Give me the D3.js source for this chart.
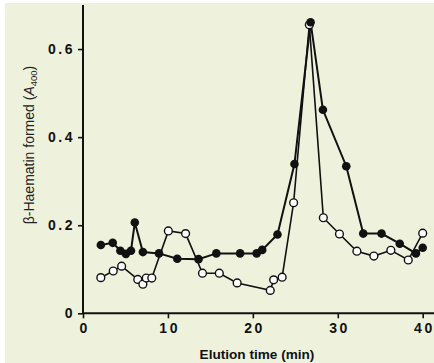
<!DOCTYPE html>
<html>
<head>
<meta charset="utf-8">
<script src="https://cdn.jsdelivr.net/npm/d3@7"></script>
<style>
  body { margin: 0; background: #ffffff; }
  svg { display: block; }
  .tick-label { font-family: "Liberation Sans", Arial, sans-serif; font-weight: bold; font-size: 14px; letter-spacing: 2.5px; fill: #111; }
</style>
</head>
<body>
<div id="chart"></div>
<script>
// elution times (min) and A400 values
var filledTime = [2.1, 3.5, 4.4, 5.05, 5.65, 6.1, 7.05, 8.95, 11.1, 13.6, 15.7, 18.5, 20.45, 21.1, 22.9, 24.9, 26.8, 28.25, 31.0, 33.0, 35.15, 37.3, 39.2, 40.0];
var filledA400 = [0.155, 0.160, 0.142, 0.135, 0.142, 0.206, 0.139, 0.136, 0.124, 0.123, 0.136, 0.136, 0.136, 0.144, 0.179, 0.339, 0.661, 0.462, 0.334, 0.181, 0.181, 0.158, 0.136, 0.149];

var openTime = [2.1, 3.56, 4.55, 6.45, 7.05, 7.45, 8.1, 10.05, 12.08, 14.07, 16.05, 18.15, 22.05, 22.45, 23.45, 24.8, 26.65, 28.3, 30.2, 32.25, 34.25, 36.25, 38.3, 40.0];
var openA400 = [0.081, 0.096, 0.107, 0.077, 0.066, 0.080, 0.080, 0.187, 0.181, 0.091, 0.091, 0.069, 0.052, 0.076, 0.082, 0.251, 0.655, 0.217, 0.180, 0.141, 0.130, 0.143, 0.121, 0.182];

var xTicks = [0, 10, 20, 30, 40];
var yTicks = [0, 0.2, 0.4, 0.6];
var yTickLabels = ['0', '0.2', '0.4', '0.6'];

var svgWidth = 434,
  svgHeight = 363,
  margin = { top: 5, right: 11.3, bottom: 49.7, left: 83 },
  width = svgWidth - margin.left - margin.right,
  height = svgHeight - margin.top - margin.bottom;

var svg = d3.select('#chart').append('svg')
  .attr('width', svgWidth)
  .attr('height', svgHeight);

// paper background with a thin white border like the scan
svg.append('rect')
  .attr('x', 5).attr('y', 3)
  .attr('width', svgWidth - 5).attr('height', svgHeight - 3)
  .attr('fill', '#eef2dd');

var g = svg.append('g')
  .attr('transform', 'translate(' + margin.left + ',' + margin.top + ')');

var x = d3.scaleLinear().domain([0, 40]).range([0, width]);
var y = d3.scaleLinear().domain([0, 0.7]).range([height, 0]);

// axes
var xAxis = g.append('g')
  .attr('transform', 'translate(0,' + height + ')')
  .call(d3.axisBottom(x).tickValues(xTicks).tickSize(5).tickPadding(5).tickFormat(d3.format('d')));
xAxis.select('.domain').remove();
xAxis.append('line')
  .attr('x1', 0).attr('x2', svgWidth - margin.left)
  .attr('stroke', '#111').attr('stroke-width', 2);

var yAxis = g.append('g')
  .call(d3.axisLeft(y).tickValues(yTicks).tickSize(5).tickPadding(3)
    .tickFormat(function(d, i) { return yTickLabels[i]; }));
yAxis.select('.domain').remove();
yAxis.append('line')
  .attr('y1', 0).attr('y2', height)
  .attr('stroke', '#111').attr('stroke-width', 2);

[xAxis, yAxis].forEach(function(ax) {
  ax.selectAll('.tick line').attr('stroke', '#111').attr('stroke-width', 1.6);
  ax.selectAll('.tick text').attr('class', 'tick-label').attr('fill', null);
});
// letter-spacing adds space after the last glyph; nudge centred labels back
xAxis.selectAll('.tick text').attr('dx', 1.2);

// axis titles
svg.append('text')
  .attr('x', 257)
  .attr('y', 359)
  .attr('text-anchor', 'middle')
  .style('font-family', '"Liberation Sans", Arial, sans-serif')
  .style('font-weight', 'bold')
  .style('font-size', '13.6px')
  .attr('fill', '#111')
  .text('Elution time (min)');

var yTitle = svg.append('text')
  .attr('transform', 'translate(34,145) rotate(-90)')
  .attr('text-anchor', 'middle')
  .style('font-family', '"Liberation Sans", Arial, sans-serif')
  .style('font-size', '14px')
  .attr('fill', '#222');
yTitle.append('tspan').text('β-Haematin formed (');
yTitle.append('tspan').style('font-style', 'italic').text('A');
yTitle.append('tspan').attr('dy', 3).style('font-size', '9.5px').text('400');
yTitle.append('tspan').attr('dy', -3).text(')');

var line = d3.line()
  .x(function(d) { return x(d[0]); })
  .y(function(d) { return y(d[1]); });

var filled = d3.zip(filledTime, filledA400);
var open = d3.zip(openTime, openA400);

g.append('path')
  .datum(open)
  .attr('fill', 'none')
  .attr('stroke', '#111')
  .attr('stroke-width', 1.6)
  .attr('d', line);

g.append('path')
  .datum(filled)
  .attr('fill', 'none')
  .attr('stroke', '#111')
  .attr('stroke-width', 2)
  .attr('d', line);

g.selectAll('circle.open')
  .data(open)
  .enter().append('circle')
  .attr('class', 'open')
  .attr('cx', function(d) { return x(d[0]); })
  .attr('cy', function(d) { return y(d[1]); })
  .attr('r', 3.9)
  .attr('fill', '#fff')
  .attr('stroke', '#111')
  .attr('stroke-width', 1.4);

g.selectAll('circle.filled')
  .data(filled)
  .enter().append('circle')
  .attr('class', 'filled')
  .attr('cx', function(d) { return x(d[0]); })
  .attr('cy', function(d) { return y(d[1]); })
  .attr('r', 4.3)
  .attr('fill', '#111');
</script>
</body>
</html>
